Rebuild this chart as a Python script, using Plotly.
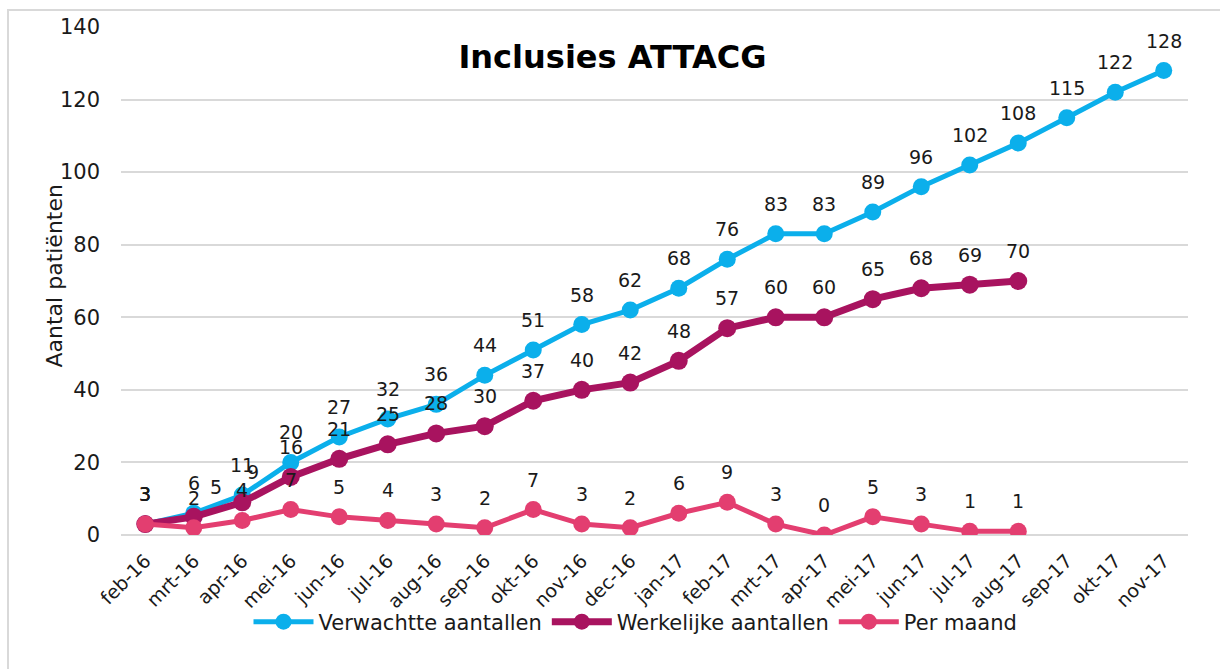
import plotly.graph_objects as go

months = ["feb-16", "mrt-16", "apr-16", "mei-16", "jun-16", "jul-16", "aug-16", "sep-16",
          "okt-16", "nov-16", "dec-16", "jan-17", "feb-17", "mrt-17", "apr-17", "mei-17",
          "jun-17", "jul-17", "aug-17", "sep-17", "okt-17", "nov-17"]
verwacht = [3, 6, 11, 20, 27, 32, 36, 44, 51, 58, 62, 68, 76, 83, 83, 89, 96, 102, 108, 115, 122, 128]
werkelijk = [3, 5, 9, 16, 21, 25, 28, 30, 37, 40, 42, 48, 57, 60, 60, 65, 68, 69, 70]
per_maand = [3, 2, 4, 7, 5, 4, 3, 2, 7, 3, 2, 6, 9, 3, 0, 5, 3, 1, 1]

FONT = "DejaVu Sans"
TXT = "#1a1a1a"
C_BLUE = "#0BAFEB"
C_MAG = "#A8135F"
C_PINK = "#E33E70"

fig = go.Figure()
fig.add_trace(go.Scatter(x=months, y=verwacht, name="Verwachtte aantallen", mode="lines+markers",
                         line=dict(color=C_BLUE, width=5), marker=dict(size=17, color=C_BLUE)))
fig.add_trace(go.Scatter(x=months[:len(werkelijk)], y=werkelijk, name="Werkelijke aantallen",
                         mode="lines+markers",
                         line=dict(color=C_MAG, width=7), marker=dict(size=18, color=C_MAG)))
fig.add_trace(go.Scatter(x=months[:len(per_maand)], y=per_maand, name="Per maand", mode="lines+markers",
                         line=dict(color=C_PINK, width=5), marker=dict(size=17, color=C_PINK)))

# data labels
label_xshift = {("w", 1): 22, ("w", 2): 11}
for key, series in (("v", verwacht), ("w", werkelijk), ("p", per_maand)):
    for i, v in enumerate(series):
        fig.add_annotation(x=months[i], y=v, text=str(v), showarrow=False,
                           yshift=30, xshift=label_xshift.get((key, i), 0),
                           font=dict(family=FONT, size=19, color=TXT))

# layout geometry (pixels)
W, H = 1220, 669
L, R, T, B = 121, 1188, 27, 535
pw, ph = R - L, B - T

def px(xp):
    return (xp - L) / pw

def py(yp):
    return (B - yp) / ph

fig.add_shape(type="rect", xref="paper", yref="paper", x0=px(8), x1=px(1230), y0=py(10), y1=py(690),
              line=dict(color="#D9D9D9", width=2), fillcolor="rgba(0,0,0,0)", layer="below")

fig.add_annotation(xref="paper", yref="paper", x=px(39), y=py(276), text="Aantal patiënten",
                   textangle=-90, showarrow=False, font=dict(family=FONT, size=22, color=TXT))

fig.update_layout(
    width=W, height=H,
    margin=dict(l=L, r=W - R, t=T, b=H - B),
    paper_bgcolor="white", plot_bgcolor="white",
    font=dict(family=FONT, size=19, color=TXT),
    title=dict(text="<b>Inclusies ATTACG</b>", x=0.502, xanchor="center", xref="container",
               y=1 - 57 / H, yanchor="middle", yref="container",
               font=dict(family=FONT, size=32, color="#000")),
    showlegend=True,
    legend=dict(orientation="h", x=0.5 - (654 - 635) / pw, xanchor="center", y=py(622), yanchor="middle",
                bgcolor="rgba(0,0,0,0)",
                font=dict(family=FONT, size=21, color=TXT), itemwidth=60, tracegroupgap=0),
    xaxis=dict(type="category", range=[-0.5, len(months) - 0.5], autorange=False,
               tickangle=-45, showgrid=False, showline=False, zeroline=False,
               ticks="", ticklabelstandoff=10, tickfont=dict(family=FONT, size=19, color=TXT)),
    yaxis=dict(range=[0, 140], dtick=20, showgrid=True, gridcolor="#D9D9D9", gridwidth=1.5,
               zeroline=True, zerolinecolor="#D9D9D9", zerolinewidth=1.5, showline=False,
               ticks="", ticklabelstandoff=20, tickfont=dict(family=FONT, size=21, color=TXT)),
)

fig.write_html("out.html")
